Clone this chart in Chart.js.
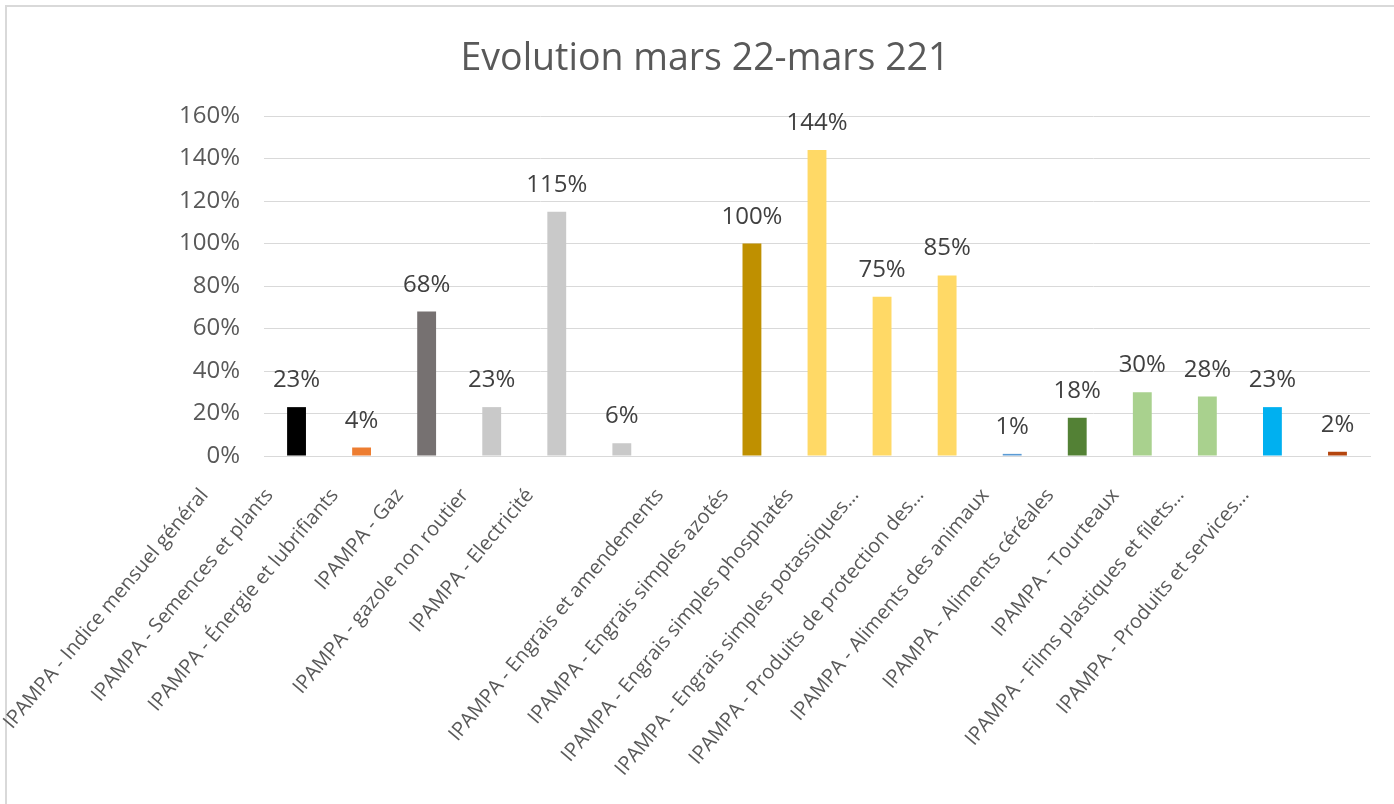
<!DOCTYPE html>
<html>
<head>
<meta charset="utf-8">
<script src="https://cdn.jsdelivr.net/npm/chart.js@4.4.1/dist/chart.umd.min.js"></script>
<style>
  html, body { margin: 0; padding: 0; background: #ffffff; overflow: hidden; }
  #frame { position: absolute; left: 5px; top: 5px; width: 1500px; height: 900px;
           border-left: 2px solid #d9d9d9; border-top: 2px solid #d9d9d9; z-index: 0; }
  #c { position: absolute; left: 0; top: 0; z-index: 1; }
</style>
</head>
<body>
<div id="frame"></div>
<canvas id="c" width="1394" height="804"></canvas>
<script>
const chartTitle = "Evolution mars 22-mars 221";

const categories = [
  "IPAMPA - Indice mensuel général",
  "IPAMPA - Semences et plants",
  "IPAMPA - Énergie et lubrifiants",
  "IPAMPA - Gaz",
  "IPAMPA - gazole non routier",
  "IPAMPA - Electricité",
  "",
  "IPAMPA - Engrais et amendements",
  "IPAMPA - Engrais simples azotés",
  "IPAMPA - Engrais simples phosphatés",
  "IPAMPA - Engrais simples potassiques…",
  "IPAMPA - Produits de protection des…",
  "IPAMPA - Aliments des animaux",
  "IPAMPA - Aliments céréales",
  "IPAMPA - Tourteaux",
  "IPAMPA - Films plastiques et filets…",
  "IPAMPA - Produits et services…"
];

// Evolution in %
const values = [23, 4, 68, 23, 115, 6, null, 100, 144, 75, 85, 1, 18, 30, 28, 23, 2];

const barColors = [
  "#000000", "#ED7D31", "#767171", "#C9C9C9", "#C9C9C9", "#C9C9C9", "#FFFFFF",
  "#BF9000", "#FFD966", "#FFD966", "#FFD966", "#5B9BD5", "#538135",
  "#A9D18E", "#A9D18E", "#00B0F0", "#B4450E"
];

const yTicks = [0, 20, 40, 60, 80, 100, 120, 140, 160];

const FONT = "'Open Sans', 'DejaVu Sans', sans-serif";

const valueLabels = {
  id: "valueLabels",
  afterDatasetsDraw(chart) {
    const ctx = chart.ctx;
    const meta = chart.getDatasetMeta(0);
    ctx.save();
    ctx.font = "24px " + FONT;
    ctx.fillStyle = "#404040";
    ctx.textAlign = "center";
    ctx.textBaseline = "alphabetic";
    meta.data.forEach((bar, i) => {
      const v = values[i];
      if (v === null || v === undefined) return;
      ctx.fillText(v + "%", bar.x, bar.y - 20);
    });
    ctx.restore();
  }
};

new Chart(document.getElementById("c"), {
  type: "bar",
  data: {
    labels: categories,
    datasets: [{
      data: values,
      backgroundColor: barColors,
      borderWidth: 0,
      barPercentage: 0.29,
      categoryPercentage: 1.0
    }]
  },
  options: {
    responsive: false,
    animation: false,
    layout: { padding: { left: 40, right: 24, top: 0, bottom: 0 } },
    plugins: {
      legend: { display: false },
      tooltip: { enabled: false },
      title: {
        display: true,
        text: chartTitle,
        color: "#595959",
        font: { family: FONT, size: 37.5, weight: "normal", lineHeight: 1.2 },
        padding: { top: 37, bottom: 34 }
      }
    },
    scales: {
      x: {
        grid: { display: false, drawTicks: false },
        border: { display: true, color: "#d9d9d9", width: 1 },
        ticks: {
          autoSkip: false,
          minRotation: 50,
          maxRotation: 50,
          color: "#595959",
          font: { family: FONT, size: 20 },
          padding: 28,
          labelOffset: -92
        },
        afterFit(scale) { scale.height = 348; }
      },
      y: {
        min: 0,
        max: 160,
        afterBuildTicks(scale) { scale.ticks = yTicks.map(v => ({ value: v })); },
        grid: { color: "#d9d9d9", lineWidth: 1, drawTicks: false },
        border: { display: false },
        ticks: {
          color: "#595959",
          font: { family: FONT, size: 24 },
          padding: 24,
          callback: (v) => v + "%"
        },
        afterFit(scale) { scale.width = 224; }
      }
    }
  },
  plugins: [valueLabels]
});
</script>
</body>
</html>
